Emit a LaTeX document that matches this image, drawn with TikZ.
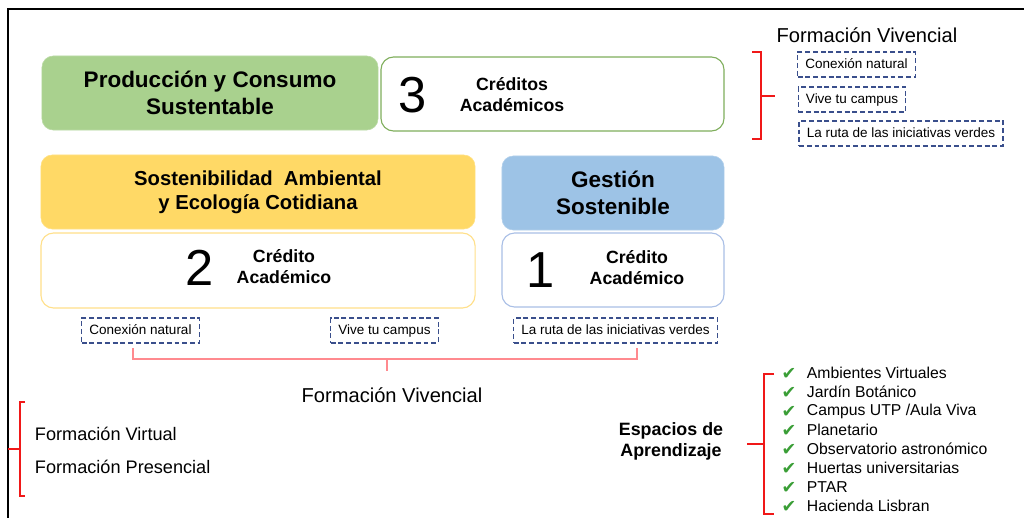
\documentclass[tikz,border=0pt]{standalone}
\usepackage{fontspec}
\setmainfont{Liberation Sans}
\newfontfamily\symfont{DejaVu Sans}

\definecolor{verdeprod}{HTML}{A9D18E}
\definecolor{verdeborde}{HTML}{7FAE5C}
\definecolor{amarillo}{HTML}{FFD966}
\definecolor{amarilloborde}{HTML}{FFE08A}
\definecolor{azul}{HTML}{9DC3E6}
\definecolor{azulborde}{HTML}{A9BFE6}
\definecolor{azuldash}{HTML}{3A4F8C}
\definecolor{rojo}{HTML}{F01818}
\definecolor{rojoclaro}{HTML}{FF8A8F}
\definecolor{check}{HTML}{3A9E36}

\tikzset{
  titlebox/.style={rounded corners=8pt, minimum height=1.85cm, align=center},
  credbox/.style={draw, line width=0.8pt, fill=white, rounded corners=9pt, minimum height=1.85cm},
  dashbox/.style={draw=azuldash, dash pattern=on 3.5pt off 2pt, line width=0.9pt,
    inner xsep=5.5pt, text height=1.6ex, text depth=0.45ex, minimum height=0.62cm,
    font=\fontsize{9.6}{11}\selectfont},
  bignum/.style={font=\fontsize{36}{36}\selectfont},
  credtxt/.style={align=center, font=\fontsize{12.6}{15}\selectfont\bfseries},
  llave/.style={draw=rojo, line width=1.1pt},
}

\begin{document}
\begin{tikzpicture}[x=0.025cm, y=-0.025cm]
\useasboundingbox (0,0) rectangle (1024,518);
\draw[line width=1.5pt] (8,518) -- (8,9) -- (1024,9);

% ejes
\node[titlebox, fill=verdeprod, draw=verdeprod!80!white, minimum width=8.4cm,
  font=\fontsize{16}{19.2}\selectfont\bfseries] (prod) at (210,93) {Producción y Consumo\\Sustentable};
\node[credbox, draw=verdeborde, minimum width=8.575cm] (cred3) at (552.5,94) {};
\node[bignum] (num3) at (413,95) {3};
\node[credtxt] (txt3) at (512,95) {Créditos\\Académicos};

\node[titlebox, fill=amarillo, draw=amarillo!80!white, minimum width=10.85cm,
  font=\fontsize{14.4}{17}\selectfont\bfseries] (sost) at (258,192) {Sostenibilidad~~Ambiental\\y Ecología Cotidiana};
\node[credbox, draw=amarilloborde, minimum width=10.85cm, minimum height=1.875cm] (cred2) at (258,270.5) {};
\node[bignum] (num2) at (200,268) {2};
\node[credtxt] (txt2) at (284,267) {Crédito\\Académico};

\node[titlebox, fill=azul, draw=azul!80!white, minimum width=5.55cm,
  font=\fontsize{16}{19.2}\selectfont\bfseries] (gest) at (613,193) {Gestión\\Sostenible};
\node[credbox, draw=azulborde, minimum width=5.55cm] (cred1) at (613,270) {};
\node[bignum] (num1) at (541,270) {1};
\node[credtxt] (txt1) at (637,268) {Crédito\\Académico};

% formacion vivencial abajo
\node[dashbox] (conex) at (140.5,330.5) {Conexión natural};
\node[dashbox] (vive) at (384.5,330.5) {Vive tu campus};
\node[dashbox] (ruta) at (615.5,330.5) {La ruta de las iniciativas verdes};
\draw[draw=rojoclaro, line width=0.9pt] (133,348) -- (133,359) -- (637,359) -- (637,348);
\draw[draw=rojoclaro, line width=0.9pt] (387,359) -- (387,371);
\node[font=\fontsize{14.3}{17}\selectfont] (fv2) at (392,395) {Formación Vivencial};

% formacion vivencial arriba
\node[font=\fontsize{14.3}{17}\selectfont] (fv1) at (867,35) {Formación Vivencial};
\node[dashbox] (conex2) at (856.5,64.5) {Conexión natural};
\node[dashbox] (vive2) at (852,99.5) {Vive tu campus};
\node[dashbox] (ruta2) at (901,133.5) {La ruta de las iniciativas verdes};
\draw[llave] (752,52) -- (761,52) -- (761,139) -- (752,139);
\draw[llave] (761,96) -- (775,96);

% modalidades
\draw[llave] (25,402) -- (20,402) -- (20,496) -- (25,496);
\draw[llave] (20,449) -- (8,449);
\node[anchor=west, font=\fontsize{12.9}{15}\selectfont] (virt) at (30,434) {Formación Virtual};
\node[anchor=west, font=\fontsize{12.9}{15}\selectfont] (pres) at (30,467) {Formación Presencial};

% espacios de aprendizaje
\node[align=center, font=\fontsize{12.7}{15}\selectfont\bfseries] (esp) at (671,441) {Espacios de\\Aprendizaje};
\draw[llave] (774,374) -- (764,374) -- (764,514) -- (774,514);
\draw[llave] (764,444) -- (747,444);
\foreach \lugar [count=\i] in {Ambientes Virtuales, Jardín Botánico, Campus UTP /Aula Viva,
  Planetario, Observatorio astronómico, Huertas universitarias, PTAR, Hacienda Lisbran}{
  \node[text=check, font=\symfont\fontsize{12.5}{14}\selectfont] (chk\i) at (789,{374+19*(\i-1)}) {✔};
  \node[anchor=west, font=\fontsize{11.2}{13}\selectfont] (lug\i) at (802,{373+19*(\i-1)}) {\lugar};
}

\end{tikzpicture}
\end{document}
